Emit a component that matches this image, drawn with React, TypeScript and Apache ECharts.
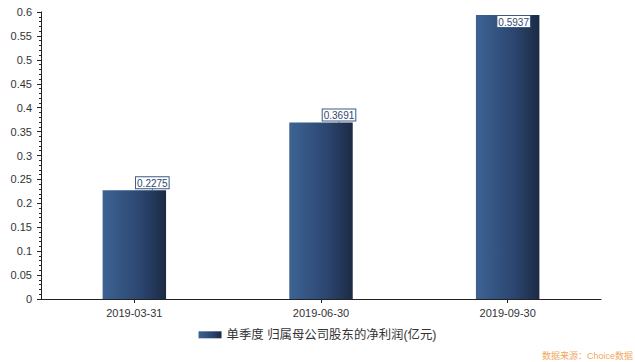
import React, { useEffect, useRef } from "react";
import * as echarts from "echarts";

const categories = ["2019-03-31", "2019-06-30", "2019-09-30"];
const netProfit = [0.2275, 0.3691, 0.5937];
const seriesName = "单季度 归属母公司股东的净利润(亿元)";
const sourceText = "数据来源：Choice数据";

const FONT = "'Liberation Sans', Arial, 'Noto Sans CJK SC', sans-serif";

export default function App() {
  const ref = useRef<HTMLDivElement>(null);
  useEffect(() => {
    if (!ref.current) return;
    const chart = echarts.init(ref.current, null, { renderer: "svg" });
    const last = netProfit.length - 1;
    chart.setOption({
      animation: false,
      textStyle: { fontFamily: FONT },
      grid: { left: 41, right: 34, top: 12, bottom: 63, containLabel: false },
      legend: {
        show: true,
        bottom: 16,
        left: "center",
        itemWidth: 23,
        itemHeight: 7,
        itemGap: 10,
        icon: "rect",
        textStyle: { fontSize: 12.4, color: "#333", fontFamily: FONT },
        data: [seriesName],
      },
      xAxis: {
        type: "category",
        data: categories,
        boundaryGap: true,
        axisLine: { lineStyle: { color: "#222", width: 1 } },
        axisTick: { show: true, alignWithLabel: true, length: 4, lineStyle: { color: "#222" } },
        axisLabel: { color: "#333", fontSize: 11, margin: 8, fontFamily: FONT },
        splitLine: { show: false },
      },
      yAxis: {
        type: "value",
        min: 0,
        max: 0.6,
        interval: 0.05,
        axisLine: { show: true, lineStyle: { color: "#222", width: 1 } },
        axisTick: { show: true, length: 4, lineStyle: { color: "#222" } },
        minorTick: { show: true, splitNumber: 5, length: 2, lineStyle: { color: "#222" } },
        axisLabel: { color: "#333", fontSize: 11, margin: 9, fontFamily: FONT },
        splitLine: { show: false },
      },
      series: [
        {
          name: seriesName,
          type: "bar",
          data: netProfit,
          barWidth: "34%",
          itemStyle: {
            color: new echarts.graphic.LinearGradient(0, 0, 1, 0, [
              { offset: 0, color: "#3d6393" },
              { offset: 0.6, color: "#2b4670" },
              { offset: 1, color: "#1c2a44" },
            ]),
          },
          label: {
            show: true,
            position: "top",
            distance: 3,
            fontSize: 10,
            color: "#2f4870",
            fontFamily: FONT,
            backgroundColor: "#fff",
            borderColor: "#3a5a85",
            borderWidth: 1,
            padding: [1, 1, 0, 1],
          },
          labelLine: { show: true, lineStyle: { color: "#3a5a85", width: 1 } },
          labelLayout: (params: any) => {
            if (params.dataIndex === last) {
              return { dx: 6, dy: 15 };
            }
            return { dx: 18, dy: 1 };
          },
        },
      ],
      graphic: [
        {
          type: "text",
          right: 2,
          bottom: 2,
          style: {
            text: sourceText,
            fill: "#f2a860",
            fontSize: 9,
            fontFamily: FONT,
          },
        },
      ],
    });
    return () => chart.dispose();
  }, []);
  return <div ref={ref} style={{ width: 635, height: 362, position: "absolute", left: 0, top: 0 }} />;
}
